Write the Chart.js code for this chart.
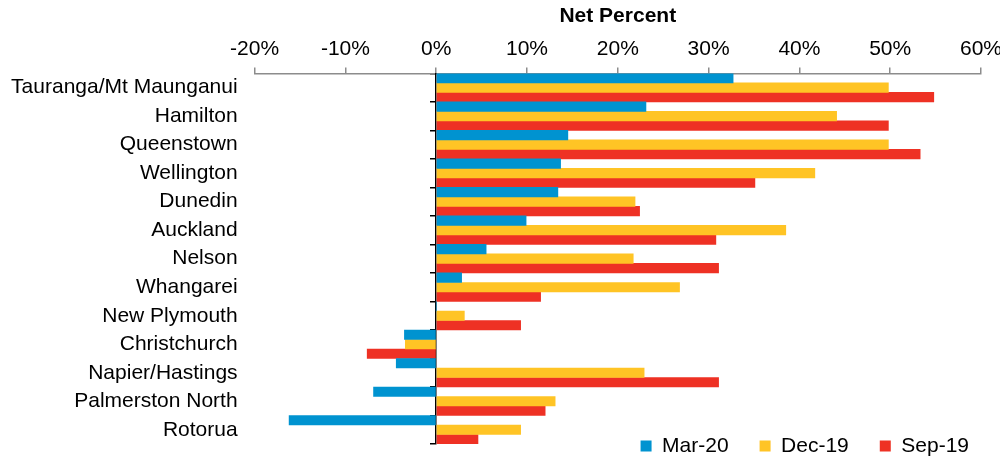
<!DOCTYPE html>
<html>
<head>
<meta charset="utf-8">
<script src="https://cdn.jsdelivr.net/npm/chart.js@4"></script>
<style>
  html, body { margin: 0; padding: 0; background: #fff; overflow: hidden; }
  #wrap { width: 1000px; height: 461px; }
</style>
</head>
<body>
<div id="wrap"><canvas id="chart" width="1000" height="461"></canvas></div>
<script>
// Data
const cities = ['Tauranga/Mt Maunganui', 'Hamilton', 'Queenstown', 'Wellington', 'Dunedin', 'Auckland',
  'Nelson', 'Whangarei', 'New Plymouth', 'Christchurch', 'Napier/Hastings', 'Palmerston North', 'Rotorua'];
const seriesNames = ['Mar-20', 'Dec-19', 'Sep-19'];
const mar20 = [32.7, 23.1, 14.5, 13.7, 13.4, 9.9, 5.5, 2.8, 0, -3.5, -4.4, -6.9, -16.2];
const dec19 = [49.8, 44.1, 49.8, 41.7, 21.9, 38.5, 21.7, 26.8, 3.1, -3.4, 22.9, 13.1, 9.3];
const sep19 = [54.8, 49.8, 53.3, 35.1, 22.4, 30.8, 31.1, 11.5, 9.3, -7.6, 31.1, 12.0, 4.6];
const xTicks = [-20, -10, 0, 10, 20, 30, 40, 50, 60];
const colors = ['#0093D0', '#FFC425', '#EE3124'];

const fontSize = 21;
Chart.defaults.font.family = "'Liberation Sans', Arial, sans-serif";
Chart.defaults.font.size = fontSize;
Chart.defaults.color = '#000';

// lift the legend so it sits over the bottom of the plot, like the original
const legendShift = {
  id: 'legendShift',
  afterLayout(chart) {
    const lg = chart.legend;
    const pad = lg.options.labels.padding;
    lg.top = chart.chartArea.bottom + 2 - pad - fontSize / 2;
    lg.bottom = lg.top + pad + fontSize + 10;
  }
};

const ctx = document.getElementById('chart').getContext('2d');
new Chart(ctx, {
  type: 'bar',
  data: {
    labels: cities,
    datasets: [mar20, dec19, sep19].map((d, i) => ({
      label: seriesNames[i],
      data: d,
      backgroundColor: colors[i],
      borderWidth: 0,
      barPercentage: 1,
      categoryPercentage: 1
    }))
  },
  options: {
    indexAxis: 'y',
    responsive: false,
    animation: false,
    layout: { padding: 0 },
    scales: {
      x: {
        position: 'top',
        min: xTicks[0],
        max: xTicks[xTicks.length - 1],
        afterBuildTicks: s => { s.ticks = xTicks.map(v => ({ value: v })); },
        afterFit: s => { s.paddingRight = 19; s.paddingLeft = 0; },
        ticks: { padding: 6, callback: v => v + '%' },
        grid: { drawOnChartArea: false, drawTicks: true, tickLength: 6, color: '#8c8c8c', lineWidth: 1.5 },
        border: { display: true, color: '#8c8c8c', width: 1.5 },
        title: { display: true, text: 'Net Percent', font: { size: 21, weight: 'bold' }, padding: { top: 4, bottom: 1 } }
      },
      y: {
        position: 'left',
        afterFit: s => { s.width = 254.6; s.paddingTop = 0; s.paddingBottom = 0; },
        ticks: { padding: 17 },
        grid: { display: false, drawTicks: false },
        border: { display: false }
      },
      y2: {
        axis: 'y',
        type: 'category',
        labels: cities,
        position: { x: 0 },
        offset: true,
        ticks: { display: false },
        grid: { offset: true, drawOnChartArea: false, drawTicks: true, tickLength: 5, color: '#000', lineWidth: 1.5 },
        border: { display: true, color: '#000', width: 1.5 }
      }
    },
    plugins: {
      legend: {
        position: 'bottom',
        align: 'end',
        maxHeight: 17,
        labels: { boxWidth: 11, boxHeight: 11, padding: 31, font: { size: fontSize } }
      },
      tooltip: { enabled: false }
    }
  },
  plugins: [legendShift]
});
</script>
</body>
</html>
